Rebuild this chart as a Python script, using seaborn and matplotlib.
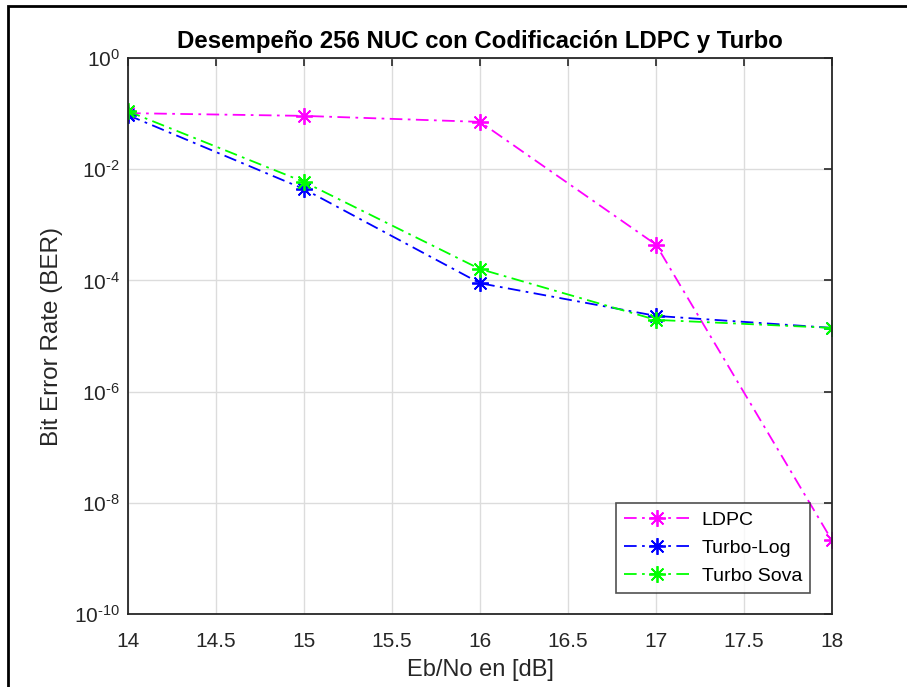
import numpy as np
import pandas as pd
import seaborn as sns
import matplotlib
matplotlib.use("Agg")
import matplotlib.pyplot as plt
from matplotlib.patches import Rectangle
from matplotlib.lines import Line2D

# Eb/No points and measured bit error rates
ebno = [14, 15, 16, 17, 18]
ber_ldpc = [0.102, 0.091, 0.071, 4.4e-4, 2.1e-9]
ber_turbo_log = [0.094, 4.4e-3, 8.9e-5, 2.3e-5, 1.4e-5]
ber_turbo_sova = [0.110, 5.9e-3, 1.6e-4, 1.95e-5, 1.4e-5]

series_names = ["LDPC", "Turbo-Log", "Turbo Sova"]
series_colors = ["#ff00ff", "#0000ff", "#00ff00"]

x_ticks = [14, 14.5, 15, 15.5, 16, 16.5, 17, 17.5, 18]
x_tick_labels = ["14", "14.5", "15", "15.5", "16", "16.5", "17", "17.5", "18"]
y_ticks = [1e0, 1e-2, 1e-4, 1e-6, 1e-8, 1e-10]
y_tick_labels = [r"$10^{0}$", r"$10^{\text{-2}}$", r"$10^{\text{-4}}$",
                 r"$10^{\text{-6}}$", r"$10^{\text{-8}}$", r"$10^{\text{-10}}$"]

sns.set_theme(style="white")
plt.rcParams["font.family"] = ["Liberation Sans", "DejaVu Sans"]
plt.rcParams["mathtext.fontset"] = "custom"
plt.rcParams["mathtext.rm"] = "Liberation Sans"
plt.rcParams["mathtext.it"] = "Liberation Sans:italic"
plt.rcParams["mathtext.bf"] = "Liberation Sans:bold"
plt.rcParams["axes.unicode_minus"] = False

dark = "#262626"

df = pd.DataFrame({
    "ebno": ebno * 3,
    "ber": ber_ldpc + ber_turbo_log + ber_turbo_sova,
    "serie": [n for n in series_names for _ in ebno],
})

fig = plt.figure(figsize=(9.07, 6.87), dpi=100)
ax = fig.add_axes([128 / 907, 1 - 614 / 687, (832 - 128) / 907, (614 - 58) / 687])

asterisk = (8, 2, 0)
dash = (7, 3, 1.5, 3)
for name, color in zip(series_names, series_colors):
    sub = df[df["serie"] == name]
    sns.lineplot(data=sub, x="ebno", y="ber", ax=ax, color=color,
                 marker=asterisk, markersize=12, markeredgewidth=1.3,
                 markeredgecolor=color, linewidth=1.3, dashes=False,
                 legend=False)
    ax.lines[-1].set_dashes(dash)

ax.set_yscale("log")
ax.set_xlim(14, 18)
ax.set_ylim(1e-10, 1e0)
ax.set_xticks(x_ticks)
ax.set_xticklabels(x_tick_labels)
ax.set_yticks(y_ticks)
ax.set_yticklabels(y_tick_labels)
ax.yaxis.set_minor_locator(matplotlib.ticker.NullLocator())

ax.grid(True, color="#dcdcdc", linewidth=1.0)
ax.set_axisbelow(True)
for s in ax.spines.values():
    s.set_color(dark)
    s.set_linewidth(1.3)
ax.tick_params(axis="both", which="major", direction="in", length=6, width=1.2,
               color=dark, labelcolor=dark, labelsize=15, top=True, right=True)
ax.tick_params(axis="x", pad=13)
ax.tick_params(axis="y", pad=6)

ax.set_xlabel("Eb/No en [dB]", fontsize=17, color=dark, labelpad=6)
ax.set_ylabel("Bit Error Rate (BER)", fontsize=17.5, color=dark, labelpad=8)
ax.set_title("Desempeño 256 NUC con Codificación LDPC y Turbo",
             fontsize=17.3, fontweight="bold", color="black", pad=7)

handles = [Line2D([], [], color=c, marker=asterisk, markersize=12,
                  markeredgewidth=1.3, linewidth=1.3, dashes=dash)
           for c in series_colors]
leg = ax.legend(handles, series_names, loc="lower right",
                bbox_to_anchor=((810 - 128) / 704, (614 - 593) / 556),
                fontsize=14, handlelength=3.4, frameon=True, fancybox=False,
                borderpad=0.4, labelspacing=0.55, handletextpad=0.6,
                borderaxespad=0)
leg.get_frame().set_edgecolor(dark)
leg.get_frame().set_linewidth(1.2)
for t in leg.get_texts():
    t.set_color("black")

# outer frame of the figure
fig.patches.append(Rectangle((8 / 907, -0.1), 1.2, 1 - 6 / 687 + 0.1,
                             transform=fig.transFigure, fill=False,
                             edgecolor="black", linewidth=2))

fig.savefig("out.png", dpi=100)
